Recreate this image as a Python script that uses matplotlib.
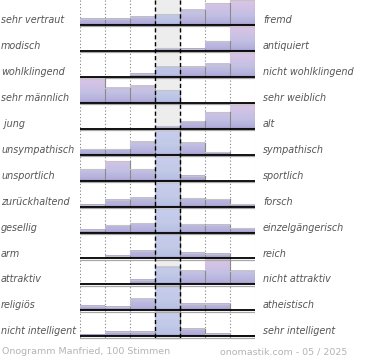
import matplotlib
matplotlib.use("Agg")
import matplotlib.pyplot as plt
import matplotlib.transforms as mtransforms
from matplotlib.colors import LinearSegmentedColormap
import numpy as np

left_labels = ["sehr vertraut", "modisch", "wohlklingend", "sehr männlich", " jung",
               "unsympathisch", "unsportlich", "zurückhaltend", "gesellig", "arm",
               "attraktiv", "religiös", "nicht intelligent"]
right_labels = ["fremd", "antiquiert", "nicht wohlklingend", "sehr weiblich", "alt",
                "sympathisch", "sportlich", "forsch", "einzelgängerisch", "reich",
                "nicht attraktiv", "atheistisch", "sehr intelligent"]

# relative bar heights per row (max of row = 100), 7 bins
sehr_vertraut = [24, 24, 32, 42, 61, 86, 100]
modisch = [0, 0, 0, 11, 8, 39, 100]
wohlklingend = [0, 0, 12, 40, 40, 52, 100]
maennlich = [100, 61, 69, 51, 0, 0, 0]
jung = [0, 2, 2, 11, 31, 67, 100]
unsympathisch = [23, 23, 52, 100, 48, 11, 0]
unsportlich = [46, 78, 47, 100, 20, 0, 0]
zurueckhaltend = [8, 28, 36, 100, 35, 29, 11]
gesellig = [12, 29, 37, 100, 35, 32, 19]
arm = [0, 11, 29, 100, 23, 19, 0]
attraktiv = [0, 0, 19, 69, 53, 100, 53]
religioes = [17, 15, 47, 100, 24, 24, 0]
nicht_intelligent = [5, 16, 16, 100, 28, 11, 2]

rows = [sehr_vertraut, modisch, wohlklingend, maennlich, jung, unsympathisch,
        unsportlich, zurueckhaltend, gesellig, arm, attraktiv, religioes,
        nicht_intelligent]

footer_left = "Onogramm Manfried, 100 Stimmen"
footer_right = "onomastik.com - 05 / 2025"

side_cmap = LinearSegmentedColormap.from_list(
    "side", [(0, "#978cc2"), (0.08, "#b2aedb"), (0.4, "#c2c0e4"), (1, "#dec4e6")])
mid_cmap = LinearSegmentedColormap.from_list(
    "mid", [(0, "#9c98ca"), (0.08, "#b8c0e4"), (0.4, "#c2cae8"), (1, "#c8cdec")])

fig = plt.figure(figsize=(3.7, 3.6), dpi=100)
ax = fig.add_axes([80 / 370, 1 - 340 / 360, 175 / 370, 340 / 360])
ax.set_axis_off()

full = 0.964
ytop, ybot = 1 - 25 / 25.94, 1 + 315 / 25.94

ax.axvspan(3, 4, color="#ededed", zorder=0)
for gx in [0, 1, 2, 5, 6, 7]:
    ax.plot([gx, gx], [ytop, ybot], color="#808080", lw=0.8,
            ls=(0, (1, 2)), zorder=1)

grad = np.linspace(1, 0, 120).reshape(-1, 1)
for r, vals in enumerate(rows):
    base = r + 1
    for i, v in enumerate(vals):
        h = v / max(vals) * full
        if h <= 0:
            continue
        cmap = mid_cmap if i == 3 else side_cmap
        frac = h / full
        ax.imshow(grad * frac, cmap=cmap, vmin=0, vmax=1, aspect="auto",
                  interpolation="bilinear", origin="upper",
                  extent=(i, i + 1, base, base - h), zorder=2)
        ax.plot([i, i + 1], [base - h, base - h], color="#c4c4c4", lw=0.8, zorder=3)
        ax.plot([i + 1, i + 1], [base - h, base], color="#8a8a8a", lw=0.8, zorder=3)
    ax.plot([0, 7], [base + 0.05, base + 0.05], color="#a8a8a8", lw=0.9, zorder=3)
    ax.plot([0, 7], [base, base], color="black", lw=1.3, zorder=4)

for gx in [3, 4]:
    ax.plot([gx, gx], [ytop, ybot], color="black", lw=1.0,
            ls=(0, (3, 2)), zorder=5)

ax.set_xlim(0, 7)
ax.set_ylim(ybot, ytop)

trans = mtransforms.blended_transform_factory(fig.transFigure, ax.transData)
for r in range(len(rows)):
    y = r + 1 - 0.19
    ax.text(1 / 370, y, left_labels[r], transform=trans, ha="left", va="center",
            fontsize=6.9, style="italic", color="#555555", clip_on=False)
    ax.text(263 / 370, y, right_labels[r], transform=trans, ha="left", va="center",
            fontsize=6.9, style="italic", color="#555555", clip_on=False)

fig.text(2 / 370, 1 - 352 / 360, footer_left, ha="left", va="center",
         fontsize=6.8, color="#b4b4b4")
fig.text(347 / 370, 1 - 352 / 360, footer_right, ha="right", va="center",
         fontsize=6.8, color="#b4b4b4")

fig.savefig("out.png", dpi=100)
